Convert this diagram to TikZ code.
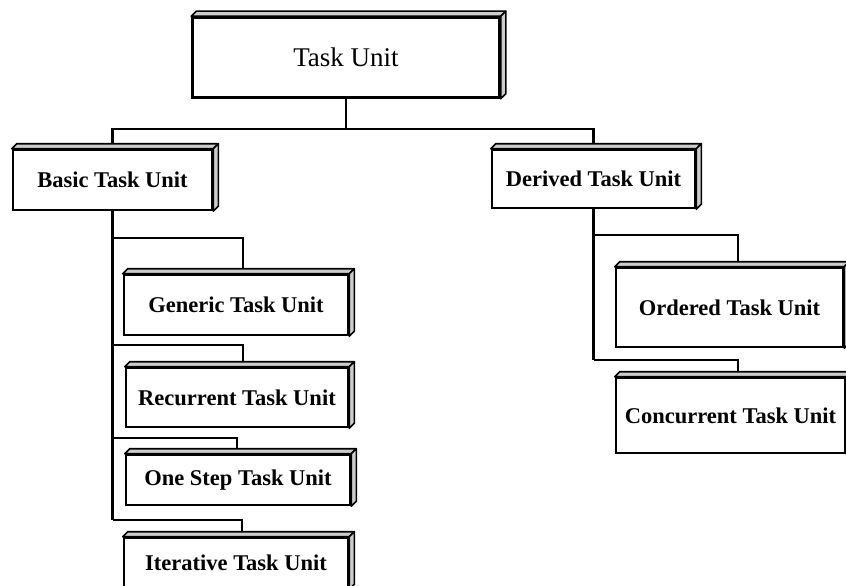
\documentclass[tikz,border=0pt]{standalone}
\usepackage{fontspec}
\setmainfont{Liberation Serif}
\usetikzlibrary{calc}
\pgfdeclarelayer{paper}
\pgfdeclarelayer{background}
\pgfsetlayers{paper,background,main}
\tikzset{
  unit/.style={draw, fill=white, line width=2.6pt, rectangle, inner sep=0pt,
    font=\bfseries\fontsize{22.5}{26}\selectfont},
  face/.style={draw, fill=gray!40, line width=1.6pt, line join=round},
  conn/.style={line width=2.4pt},
}
% thin top and right faces that give each box its depth
\newcommand{\boxfaces}[1]{%
  \draw[face] (#1.north west) -- ++(5,5) -- ($(#1.north east)+(5,5)$) -- (#1.north east) -- cycle;
  \draw[face] (#1.north east) -- ++(5,5) -- ($(#1.south east)+(5,5)$) -- (#1.south east) -- cycle;
}
\begin{document}
\begin{tikzpicture}[x=1pt,y=1pt]
\useasboundingbox (0,0) rectangle (846,-586);
\clip (0,0) rectangle (846,-586);
\begin{pgfonlayer}{paper}
\fill[white] (0,0) rectangle (846,-586);
\end{pgfonlayer}

% boxes
\node[unit, minimum width=307pt, minimum height=80pt,
      font=\fontsize{27}{31}\selectfont] (top) at (346,-57.5) {Task Unit};
\node[unit, minimum width=199pt, minimum height=60pt] (basic) at (112.5,-180) {Basic Task Unit};
\node[unit, minimum width=203pt, minimum height=58pt] (derived) at (593.5,-179) {Derived Task Unit};
\node[unit, minimum width=224pt, minimum height=60pt] (generic) at (236,-305) {Generic Task Unit};
\node[unit, minimum width=222pt, minimum height=59pt] (recurrent) at (237,-397.5) {Recurrent Task Unit};
\node[unit, minimum width=224pt, minimum height=50pt] (onestep) at (238,-480) {One Step Task Unit};
\node[unit, minimum width=224pt, minimum height=50pt] (iterative) at (236,-563) {Iterative Task Unit};
\node[unit, minimum width=227pt, minimum height=79pt] (ordered) at (729.5,-307.5) {Ordered Task Unit};
\node[unit, minimum width=229pt, minimum height=75pt] (concurrent) at (730.5,-415.5) {Concurrent Task Unit};

\foreach \n in {top,basic,derived,generic,recurrent,onestep,iterative,ordered,concurrent}{\boxfaces{\n}}

% tree connectors
\begin{pgfonlayer}{background}
\draw[conn] (top.south) -- ++(0,-30) coordinate (hub);
\draw[conn] (hub) -| (basic.north);
\draw[conn] (hub) -| (derived.north);

\draw[conn] (basic.south) -- (basic.south |- 0,-520);
\draw[conn] (basic.south |- 0,-238) -| ($(generic.north)+(7,0)$);
\draw[conn] (basic.south |- 0,-345) -| ($(recurrent.north)+(6,0)$);
\draw[conn] (basic.south |- 0,-438) -| ($(onestep.north)+(-1,0)$);
\draw[conn] (basic.south |- 0,-520) -| ($(iterative.north)+(6,0)$);

\draw[conn] (derived.south) -- (derived.south |- 0,-360);
\draw[conn] (derived.south |- 0,-235) -| ($(ordered.north)+(8.5,0)$);
\draw[conn] (derived.south |- 0,-360) -| ($(concurrent.north)+(7.5,0)$);
\end{pgfonlayer}
\end{tikzpicture}
\end{document}
